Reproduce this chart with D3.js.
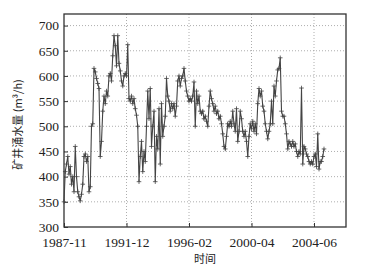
<!DOCTYPE html>
<html>
<head>
<meta charset="utf-8">
<script src="https://cdn.jsdelivr.net/npm/d3@7"></script>
<style>
  body { margin: 0; background: #fff; }
  .tick text { font-family: "Liberation Serif", serif; font-size: 13.5px; fill: #222; }
</style>
</head>
<body>
<svg id="chart" width="384" height="274"></svg>
<script>
// monthly water inflow readings
const inflow = [
  350, 410, 425, 440, 405, 420, 385, 400, 370, 460,
  400, 370, 360, 352, 365, 385, 440, 445, 430, 440,
  370, 380, 500, 505, 615, 608, 595, 585, 575, 440,
  470, 530, 560, 545, 570, 560, 600, 605, 590, 640,
  680, 660, 620, 680, 625, 610, 590, 580, 600, 605,
  600, 662, 555, 550, 560, 545, 555, 535, 522, 500,
  390, 440, 470, 410, 450, 430, 500, 570, 515, 575,
  460, 500, 530, 390, 480, 455, 535, 425, 545, 480,
  500, 520, 595, 560, 550, 530, 545, 535, 545, 520,
  540, 590, 600, 580, 595, 600, 615, 590, 570, 560,
  550, 555, 550, 560, 588, 500, 570, 545, 560, 530,
  525, 530, 515, 520, 510, 500, 540, 570, 555, 545,
  530, 540, 525, 530, 515, 520, 505, 485, 460, 455,
  480, 505, 500, 510, 500, 530, 505, 490, 535, 470,
  490, 530, 515, 490, 480, 490, 470, 440, 480, 505,
  495, 510, 490, 505, 485, 545, 575, 560, 570, 540,
  530, 505, 490, 475, 490, 505, 550, 505, 580, 560,
  590, 612, 615, 636, 530, 520, 520, 505, 485, 455,
  470, 465, 460, 470, 460, 465, 450, 440, 450, 445,
  576, 425, 460, 455, 445, 440, 430, 425, 430, 425,
  440, 445, 420, 485, 415, 430, 430, 440, 455
];
const tickIdx = [0, 50, 100, 150, 200];
const tickLabels = ['1987-11', '1991-12', '1996-02', '2000-04', '2004-06'];
const yTicks = [300, 350, 400, 450, 500, 550, 600, 650, 700];

const margin = { top: 14, right: 38, bottom: 47, left: 64 };
const width = 384 - margin.left - margin.right;
const height = 274 - margin.top - margin.bottom;

const svg = d3.select('#chart');
const g = svg.append('g')
  .attr('transform', `translate(${margin.left}, ${margin.top})`);

const x = d3.scaleLinear().domain([0, 225.6]).range([0, width]);
const y = d3.scaleLinear().domain([300, 723]).range([height, 0]);

// dotted grid
g.append('g')
  .selectAll('line')
  .data(tickIdx.slice(1))
  .join('line')
  .attr('x1', d => x(d)).attr('x2', d => x(d))
  .attr('y1', 0).attr('y2', height)
  .style('stroke', '#999').style('stroke-width', 0.8)
  .style('stroke-dasharray', '1,2');

g.append('g')
  .selectAll('line')
  .data(yTicks.slice(1))
  .join('line')
  .attr('x1', 0).attr('x2', width)
  .attr('y1', d => y(d)).attr('y2', d => y(d))
  .style('stroke', '#999').style('stroke-width', 0.8)
  .style('stroke-dasharray', '1,2');

const xAxis = g.append('g')
  .attr('transform', `translate(0, ${height})`)
  .call(d3.axisBottom(x).tickValues(tickIdx)
    .tickFormat((d, i) => tickLabels[i])
    .tickSizeInner(-4).tickSizeOuter(0).tickPadding(10));

const yAxis = g.append('g')
  .call(d3.axisLeft(y).tickValues(yTicks)
    .tickSizeInner(-4).tickSizeOuter(0).tickPadding(5));

[xAxis, yAxis].forEach(a => {
  a.select('.domain').remove();
  a.selectAll('.tick line').style('stroke', '#333');
});

// frame
g.append('rect')
  .attr('width', width)
  .attr('height', height)
  .style('fill', 'none')
  .style('stroke', '#333')
  .style('stroke-width', 1.3);

const line = d3.line()
  .x((d, i) => x(i))
  .y(d => y(d));

g.append('path')
  .datum(inflow)
  .attr('d', line)
  .style('fill', 'none')
  .style('stroke', '#444')
  .style('stroke-width', 1.1);

// '+' markers
const s = 2.3;
g.append('g')
  .selectAll('path')
  .data(inflow)
  .join('path')
  .attr('d', (d, i) => {
    const cx = x(i), cy = y(d);
    return `M${cx - s},${cy}H${cx + s}M${cx},${cy - s}V${cy + s}`;
  })
  .style('stroke', '#444')
  .style('stroke-width', 0.8);

// axis labels
svg.append('text')
  .attr('text-anchor', 'middle')
  .attr('transform', `translate(22, ${margin.top + height / 2 + 4}) rotate(-90)`)
  .style('font-family', '"Noto Sans CJK SC", sans-serif')
  .style('font-size', '11px')
  .style('fill', '#222')
  .text('矿井涌水量 (m³/h)');

svg.append('text')
  .attr('text-anchor', 'middle')
  .attr('x', margin.left + width / 2)
  .attr('y', 263)
  .style('font-family', '"Noto Sans CJK SC", sans-serif')
  .style('font-size', '11px')
  .style('fill', '#222')
  .text('时间');
</script>
</body>
</html>
